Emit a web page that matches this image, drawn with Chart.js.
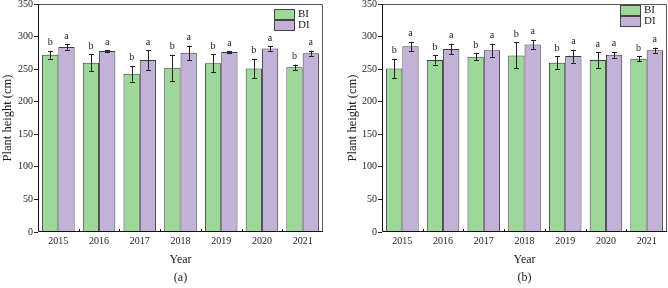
<!DOCTYPE html>
<html>
<head>
<meta charset="utf-8">
<script src="https://cdn.jsdelivr.net/npm/chart.js@4/dist/chart.umd.min.js"></script>
<style>
  html, body { margin: 0; padding: 0; background: #fff; }
  #wrap { position: relative; width: 668px; height: 288px; overflow: hidden; }
  #wrap canvas { position: absolute; top: 0; }
</style>
</head>
<body>
<div id="wrap">
  <canvas id="chartA" width="334" height="288" style="left:0px"></canvas>
  <canvas id="chartB" width="324" height="288" style="left:344px"></canvas>
</div>
<script>
// ---------- data ----------
const years = ['2015', '2016', '2017', '2018', '2019', '2020', '2021'];
const seriesNames = ['BI', 'DI'];

// panel (a)
const biA = [272, 260, 243, 252, 259, 251, 253];
const biAErr = [6, 13, 12, 20, 14, 15, 4];
const diA = [284, 278, 264, 275, 276.5, 281.5, 274.5];
const diAErr = [4, 1, 15, 11, 1, 3.5, 4];
const biALetters = ['b', 'b', 'b', 'b', 'b', 'b', 'b'];
const diALetters = ['a', 'a', 'a', 'a', 'a', 'a', 'a'];

// panel (b)
const biB = [251, 264, 269, 271, 260, 264, 266];
const biBErr = [15, 7, 5.5, 20, 10, 12, 3.5];
const diB = [285, 281, 279, 288, 270, 272, 279];
const diBErr = [7, 8, 10, 7, 10, 4.5, 4];
const biBLetters = ['b', 'b', 'b', 'b', 'b', 'a', 'b'];
const diBLetters = ['a', 'a', 'a', 'a', 'a', 'a', 'a'];

const yTicks = [0, 50, 100, 150, 200, 250, 300, 350];

// ---------- styles ----------
const SERIF = "'Liberation Serif', 'DejaVu Serif', serif";
const GREEN = '#9dd89a';
const PURPLE = '#c3b2d8';
const EDGE = '#3a3a3a';
const TEXT = '#1a1a1a';

const framePlugin = {
  id: 'frame',
  afterDatasetsDraw(chart) {
    const {ctx, chartArea: a} = chart;
    ctx.save();
    // frame
    ctx.strokeStyle = '#555';
    ctx.lineWidth = 1;
    ctx.beginPath();
    ctx.moveTo(Math.round(a.left) + 0.5, Math.round(a.top) + 0.5);
    ctx.lineTo(Math.round(a.right) - 0.5, Math.round(a.top) + 0.5);
    ctx.lineTo(Math.round(a.right) - 0.5, Math.round(a.bottom) - 0.5);
    ctx.stroke();
    ctx.strokeStyle = '#111';
    ctx.beginPath();
    ctx.moveTo(Math.round(a.left) + 0.5, Math.round(a.top));
    ctx.lineTo(Math.round(a.left) + 0.5, Math.round(a.bottom) - 0.5);
    ctx.lineTo(Math.round(a.right), Math.round(a.bottom) - 0.5);
    ctx.stroke();
    // small inward x ticks at category boundaries
    const xs = chart.scales.x;
    const n = chart.data.labels.length;
    for (let i = 1; i < n; i++) {
      const px = Math.round((xs.getPixelForTick(i - 1) + xs.getPixelForTick(i)) / 2) + 0.5;
      ctx.beginPath();
      ctx.moveTo(px, Math.round(a.bottom) - 0.5);
      ctx.lineTo(px, Math.round(a.bottom) - 3);
      ctx.stroke();
    }
    // error bars + letters
    const ys = chart.scales.y;
    chart.data.datasets.forEach((ds, di) => {
      const meta = chart.getDatasetMeta(di);
      meta.data.forEach((bar, i) => {
        const v = ds.data[i], e = ds.errors[i];
        const x = Math.round(bar.x) + 0.5;
        const yT = ys.getPixelForValue(v + e);
        const yB = ys.getPixelForValue(v - e);
        ctx.strokeStyle = '#222';
        ctx.lineWidth = 1;
        ctx.beginPath();
        ctx.moveTo(x, yT); ctx.lineTo(x, yB);
        ctx.moveTo(x - 2.5, Math.round(yT) + 0.5); ctx.lineTo(x + 2.5, Math.round(yT) + 0.5);
        ctx.moveTo(x - 2.5, Math.round(yB) + 0.5); ctx.lineTo(x + 2.5, Math.round(yB) + 0.5);
        ctx.stroke();
        ctx.fillStyle = TEXT;
        ctx.font = '10px ' + SERIF;
        ctx.textAlign = 'center';
        ctx.textBaseline = 'alphabetic';
        ctx.fillText(ds.letters[i], bar.x, yT - 5.5);
      });
    });
    // legend
    const lg = chart.options.plugins.boxLegend;
    chart.data.datasets.forEach((ds, di) => {
      const bx = a.left + lg.left;
      const by = lg.top + di * 11;
      ctx.fillStyle = ds.backgroundColor;
      ctx.fillRect(bx, by, 21, 10);
      ctx.strokeStyle = '#444';
      ctx.strokeRect(bx + 0.5, by + 0.5, 20, 10);
      ctx.fillStyle = TEXT;
      ctx.font = '11px ' + SERIF;
      ctx.textAlign = 'left';
      ctx.textBaseline = 'middle';
      ctx.fillText(ds.label, bx + 24, by + 5.5);
    });
    ctx.restore();
  }
};

function makeChart(id, bi, biErr, biL, di, diErr, diL, opts) {
  return new Chart(document.getElementById(id), {
    type: 'bar',
    data: {
      labels: years,
      datasets: [
        { label: seriesNames[0], data: bi, errors: biErr, letters: biL,
          backgroundColor: GREEN, borderColor: EDGE, borderWidth: 1 },
        { label: seriesNames[1], data: di, errors: diErr, letters: diL,
          backgroundColor: PURPLE, borderColor: EDGE, borderWidth: 1 }
      ]
    },
    options: {
      responsive: false,
      animation: false,
      devicePixelRatio: 1,
      layout: { padding: { top: 4, right: opts.right, left: 0, bottom: 0 } },
      datasets: { bar: { categoryPercentage: 0.8, barPercentage: 1.0 } },
      plugins: {
        legend: { display: false },
        tooltip: { enabled: false },
        title: {
          display: true, position: 'bottom', fullSize: false, text: opts.panel,
          color: TEXT, font: { family: SERIF, size: 12, weight: 'normal' },
          padding: { top: 3, bottom: 2.6 }
        },
        boxLegend: { left: opts.legLeft, top: opts.legTop }
      },
      scales: {
        x: {
          grid: { display: false, drawTicks: false },
          border: { display: false },
          ticks: { color: TEXT, font: { family: SERIF, size: 10 }, padding: 3, maxRotation: 0 },
          title: { display: true, text: 'Year', color: TEXT,
                   font: { family: SERIF, size: 12 }, padding: { top: 0, bottom: 1 } },
          afterFit(s) { s.height = 36; s.paddingLeft = 0; s.paddingRight = 0; }
        },
        y: {
          min: 0, max: 350,
          afterBuildTicks(s) { s.ticks = yTicks.map(v => ({ value: v })); },
          grid: { display: true, drawOnChartArea: false, drawTicks: true, tickLength: 4, tickColor: '#222' },
          border: { display: false },
          ticks: { color: TEXT, font: { family: SERIF, size: 10 }, padding: 1 },
          title: { display: true, text: 'Plant height (cm)', color: TEXT,
                   font: { family: SERIF, size: 12.5 }, padding: { top: opts.yTitlePad, bottom: 0 } },
          afterFit(s) { s.width = 38; s.paddingTop = 0; s.paddingBottom = 0; }
        }
      }
    },
    plugins: [framePlugin]
  });
}

makeChart('chartA', biA, biAErr, biALetters, diA, diAErr, diALetters,
  { panel: '(a)', right: 11, legLeft: 236, legTop: 9, yTitlePad: 0 });
makeChart('chartB', biB, biBErr, biBLetters, diB, diBErr, diBLetters,
  { panel: '(b)', right: 1, legLeft: 238, legTop: 5, yTitlePad: 1.5 });
</script>
</body>
</html>
